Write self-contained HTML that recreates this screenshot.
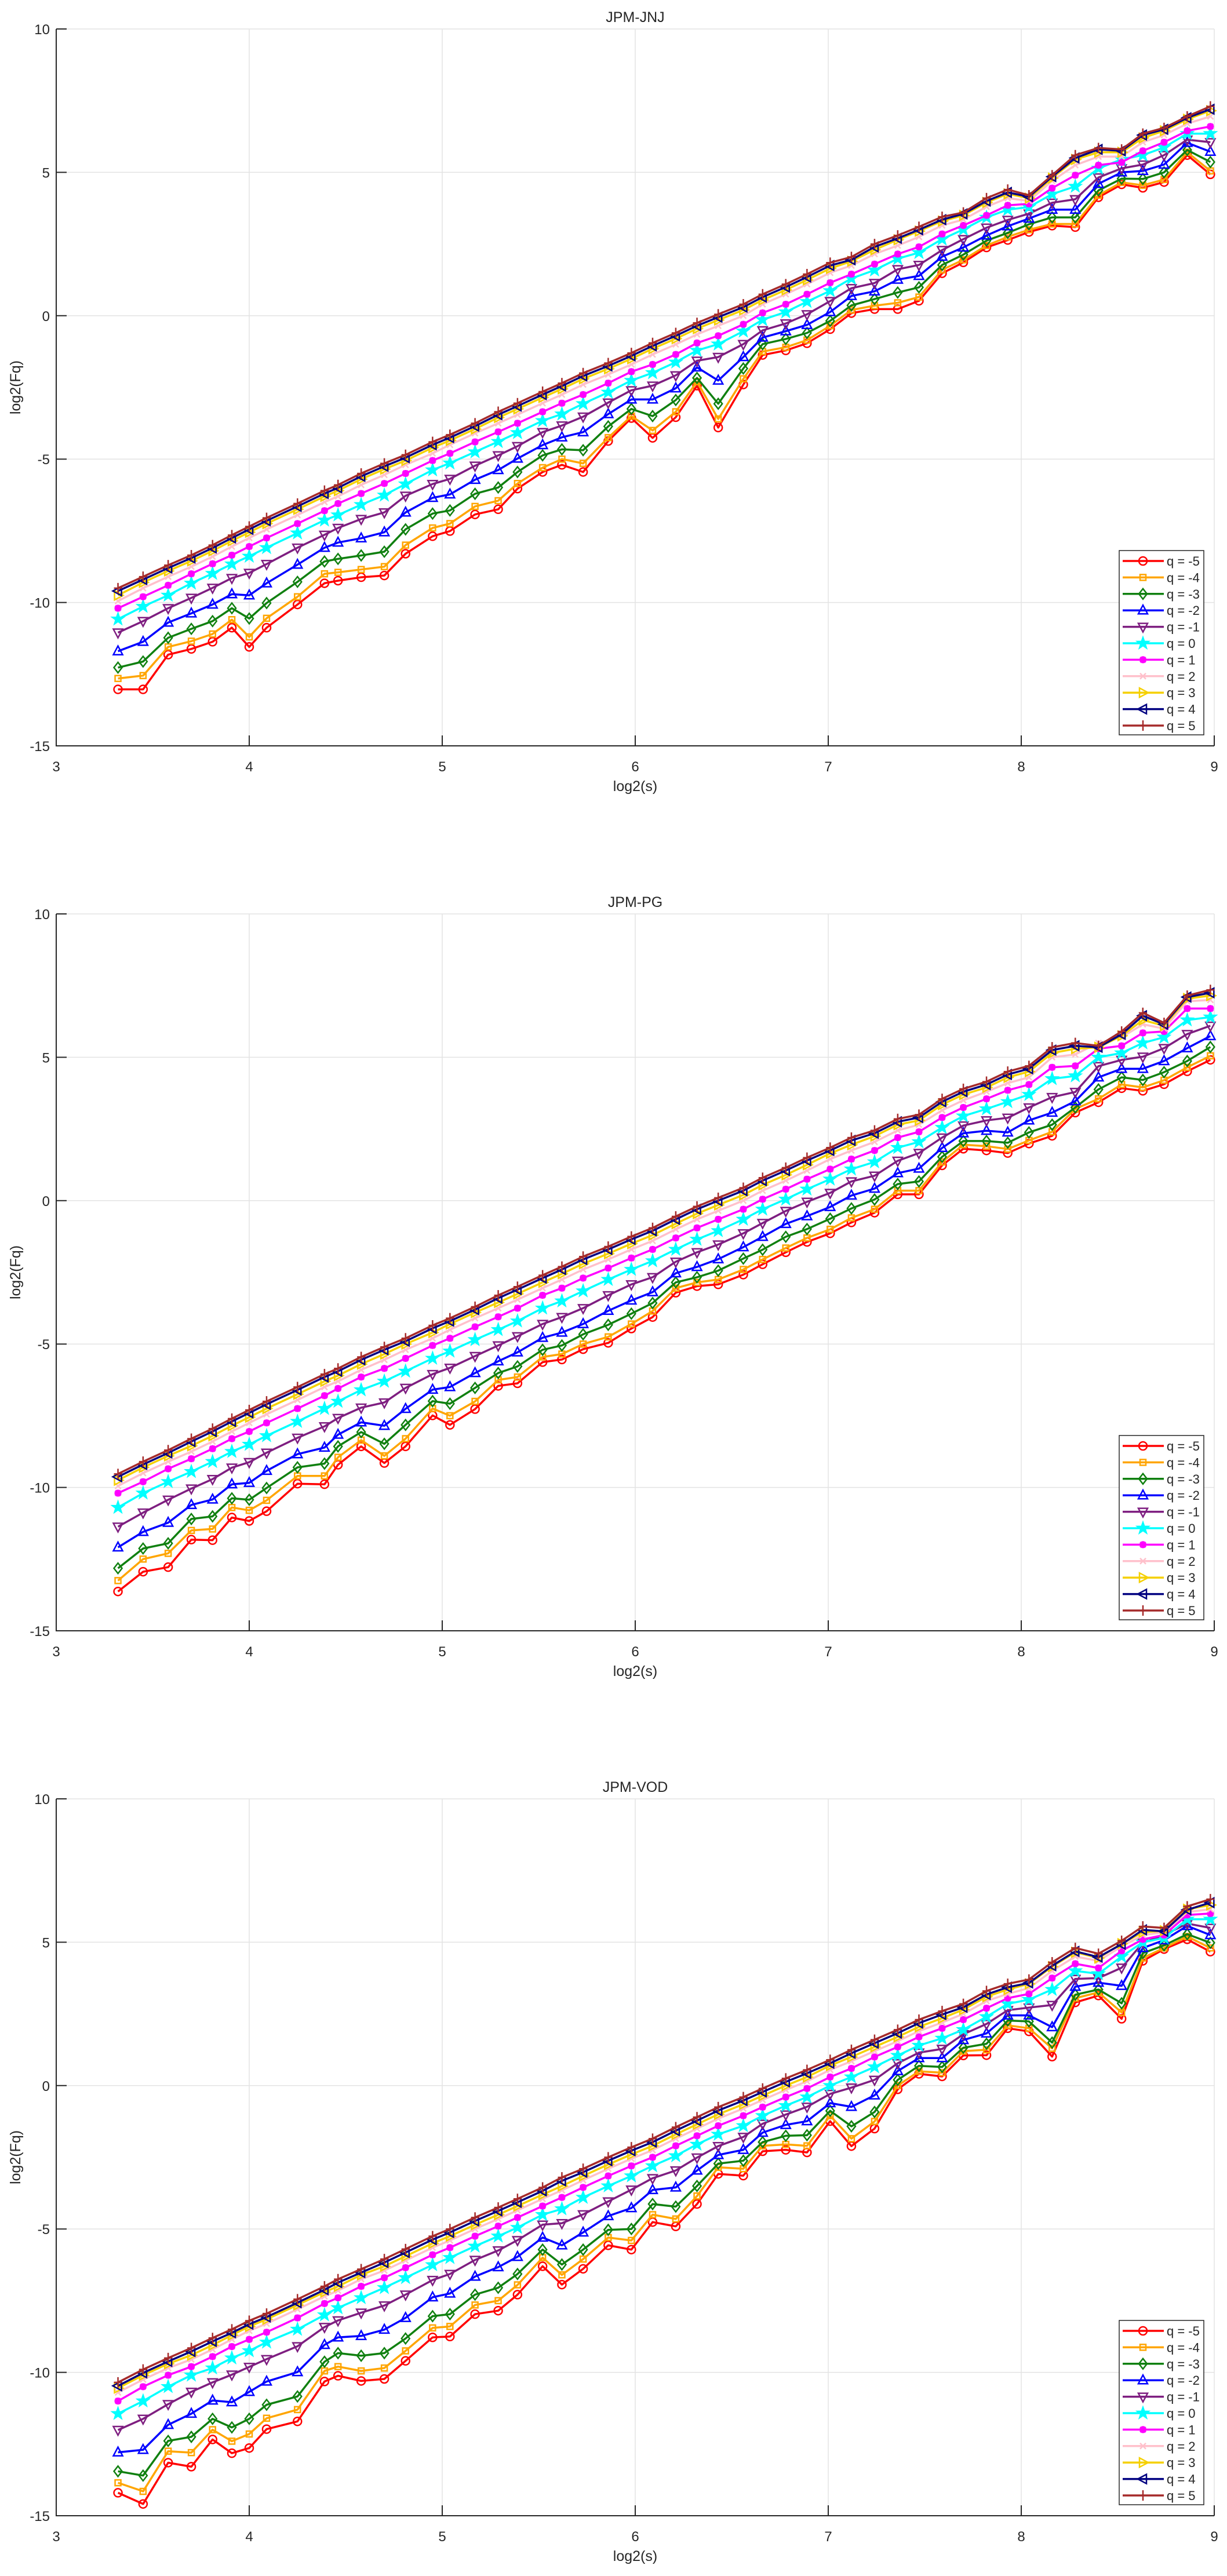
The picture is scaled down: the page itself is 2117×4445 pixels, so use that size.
<!DOCTYPE html>
<html><head><meta charset="utf-8">
<style>
html,body{margin:0;padding:0;background:#fff;}
svg{display:block;}
text{font-family:"Liberation Sans",Arial,sans-serif;fill:#262626;}
</style></head>
<body>
<svg id="fig" width="2117" height="4445" viewBox="0 0 2117 4445" xmlns="http://www.w3.org/2000/svg"></svg>
<script>
const xVals=[3.32,3.45,3.58,3.70,3.81,3.91,4.00,4.09,4.25,4.39,4.46,4.58,4.70,4.81,4.95,5.04,5.17,5.29,5.39,5.52,5.62,5.73,5.86,5.98,6.09,6.21,6.32,6.43,6.56,6.66,6.78,6.89,7.01,7.12,7.24,7.36,7.47,7.59,7.70,7.82,7.93,8.04,8.16,8.28,8.40,8.52,8.63,8.74,8.86,8.98];
const xTicks=[3,4,5,6,7,8,9];
const yTicks=[-15,-10,-5,0,5,10];
const qLabels=["q = -5","q = -4","q = -3","q = -2","q = -1","q = 0","q = 1","q = 2","q = 3","q = 4","q = 5"];
const titles=["JPM-JNJ","JPM-PG","JPM-VOD"];

// JPM-JNJ
const jnjQm5=[-13.03,-13.03,-11.82,-11.62,-11.37,-10.88,-11.55,-10.88,-10.07,-9.33,-9.24,-9.12,-9.06,-8.3,-7.69,-7.51,-6.93,-6.75,-6.03,-5.45,-5.2,-5.45,-4.37,-3.57,-4.26,-3.54,-2.44,-3.9,-2.4,-1.37,-1.21,-0.96,-0.47,0.09,0.23,0.23,0.52,1.48,1.86,2.38,2.64,2.92,3.14,3.09,4.13,4.58,4.46,4.66,5.6,4.93];
const jnjQm4=[-12.65,-12.55,-11.55,-11.35,-11.1,-10.6,-11.2,-10.55,-9.8,-9.0,-8.95,-8.85,-8.75,-8.0,-7.4,-7.25,-6.65,-6.45,-5.85,-5.3,-5.0,-5.15,-4.25,-3.5,-4.0,-3.35,-2.3,-3.6,-2.2,-1.25,-1.1,-0.85,-0.35,0.2,0.35,0.45,0.65,1.6,1.95,2.45,2.75,3.0,3.2,3.2,4.2,4.65,4.55,4.75,5.7,5.05];
const jnjQm3=[-12.27,-12.06,-11.23,-10.92,-10.65,-10.2,-10.56,-10.02,-9.28,-8.57,-8.48,-8.36,-8.23,-7.45,-6.9,-6.79,-6.21,-5.99,-5.45,-4.87,-4.66,-4.69,-3.86,-3.25,-3.5,-2.94,-2.17,-3.07,-1.84,-0.99,-0.81,-0.6,-0.18,0.36,0.58,0.81,0.99,1.77,2.13,2.62,2.89,3.19,3.43,3.43,4.37,4.78,4.77,5.0,5.78,5.36];
const jnjQm2=[-11.7,-11.37,-10.7,-10.38,-10.07,-9.71,-9.75,-9.33,-8.68,-8.09,-7.91,-7.76,-7.55,-6.86,-6.35,-6.23,-5.72,-5.38,-4.98,-4.51,-4.24,-4.06,-3.43,-2.92,-2.92,-2.53,-1.8,-2.26,-1.44,-0.76,-0.54,-0.32,0.13,0.69,0.85,1.26,1.39,2.06,2.38,2.8,3.12,3.39,3.7,3.7,4.6,5.0,5.05,5.27,6.03,5.72];
const jnjQm1=[-11.05,-10.65,-10.2,-9.84,-9.49,-9.15,-8.97,-8.66,-8.09,-7.64,-7.4,-7.09,-6.86,-6.28,-5.87,-5.69,-5.23,-4.87,-4.55,-4.06,-3.83,-3.52,-3.03,-2.6,-2.44,-2.08,-1.57,-1.44,-0.99,-0.51,-0.27,0.05,0.51,0.96,1.14,1.62,1.77,2.29,2.67,3.07,3.34,3.56,3.94,4.06,4.82,5.14,5.27,5.6,6.14,6.05];
const jnjQ0=[-10.58,-10.14,-9.75,-9.33,-8.99,-8.66,-8.39,-8.09,-7.58,-7.13,-6.95,-6.59,-6.26,-5.87,-5.38,-5.14,-4.75,-4.39,-4.08,-3.66,-3.43,-3.07,-2.67,-2.26,-1.99,-1.62,-1.21,-0.99,-0.54,-0.14,0.13,0.49,0.87,1.3,1.59,1.99,2.2,2.67,3.01,3.43,3.7,3.79,4.24,4.51,5.14,5.45,5.6,5.87,6.35,6.35];
const jnjQ1=[-10.2,-9.8,-9.4,-9.0,-8.65,-8.35,-8.05,-7.75,-7.25,-6.8,-6.55,-6.2,-5.85,-5.5,-5.05,-4.8,-4.4,-4.05,-3.75,-3.35,-3.05,-2.75,-2.35,-1.95,-1.7,-1.35,-0.95,-0.7,-0.3,0.1,0.4,0.75,1.15,1.45,1.8,2.15,2.4,2.85,3.15,3.5,3.85,3.9,4.45,4.9,5.25,5.35,5.75,6.05,6.45,6.6];
const jnjQ2=[-9.95,-9.5,-9.1,-8.75,-8.4,-8.05,-7.75,-7.45,-6.95,-6.5,-6.3,-5.9,-5.55,-5.2,-4.8,-4.5,-4.1,-3.75,-3.45,-3.05,-2.75,-2.4,-2.05,-1.7,-1.35,-1.0,-0.65,-0.35,0.0,0.4,0.75,1.1,1.5,1.75,2.15,2.45,2.75,3.15,3.35,3.8,4.1,4.0,4.7,5.25,5.55,5.55,6.05,6.3,6.7,6.95];
const jnjQ3=[-9.75,-9.3,-8.9,-8.55,-8.2,-7.85,-7.55,-7.25,-6.75,-6.3,-6.1,-5.7,-5.35,-5.05,-4.6,-4.35,-3.95,-3.55,-3.25,-2.85,-2.55,-2.2,-1.85,-1.5,-1.15,-0.8,-0.45,-0.15,0.2,0.55,0.9,1.25,1.65,1.9,2.3,2.65,2.95,3.3,3.5,3.95,4.25,4.1,4.8,5.45,5.7,5.7,6.2,6.45,6.85,7.15];
const jnjQ4=[-9.6,-9.2,-8.8,-8.45,-8.1,-7.75,-7.45,-7.15,-6.65,-6.2,-6.0,-5.6,-5.25,-4.95,-4.5,-4.25,-3.85,-3.45,-3.15,-2.75,-2.45,-2.1,-1.75,-1.4,-1.05,-0.7,-0.35,-0.05,0.3,0.65,1.0,1.35,1.75,1.95,2.4,2.7,3.0,3.35,3.55,4.0,4.3,4.15,4.85,5.5,5.8,5.75,6.3,6.5,6.9,7.2];
const jnjQ5=[-9.5,-9.1,-8.7,-8.35,-8.0,-7.65,-7.35,-7.05,-6.55,-6.1,-5.9,-5.5,-5.15,-4.85,-4.4,-4.15,-3.75,-3.35,-3.05,-2.65,-2.35,-2.0,-1.65,-1.3,-0.95,-0.6,-0.25,0.05,0.4,0.75,1.1,1.45,1.85,2.05,2.5,2.8,3.1,3.45,3.6,4.1,4.4,4.2,4.9,5.6,5.85,5.8,6.35,6.55,6.95,7.3];

// JPM-PG
const pgQm5=[-13.63,-12.94,-12.78,-11.82,-11.84,-11.05,-11.17,-10.83,-9.87,-9.89,-9.21,-8.57,-9.15,-8.57,-7.49,-7.82,-7.27,-6.46,-6.37,-5.63,-5.54,-5.18,-4.96,-4.46,-4.06,-3.21,-2.98,-2.92,-2.58,-2.22,-1.8,-1.44,-1.14,-0.76,-0.42,0.22,0.22,1.23,1.81,1.75,1.66,1.99,2.26,3.07,3.43,3.92,3.83,4.06,4.51,4.91];
const pgQm4=[-13.25,-12.5,-12.3,-11.5,-11.45,-10.7,-10.8,-10.45,-9.6,-9.6,-8.95,-8.35,-8.9,-8.3,-7.25,-7.5,-7.0,-6.25,-6.15,-5.45,-5.35,-5.0,-4.75,-4.3,-3.85,-3.05,-2.85,-2.75,-2.4,-2.05,-1.65,-1.3,-1.0,-0.6,-0.3,0.35,0.35,1.35,1.95,1.9,1.8,2.1,2.4,3.2,3.55,4.05,3.95,4.2,4.65,5.05];
const pgQm3=[-12.82,-12.13,-11.95,-11.1,-11.01,-10.38,-10.43,-10.02,-9.3,-9.17,-8.57,-8.07,-8.48,-7.82,-6.99,-7.08,-6.53,-6.01,-5.78,-5.2,-5.05,-4.66,-4.33,-3.94,-3.57,-2.85,-2.67,-2.44,-2.02,-1.71,-1.26,-0.99,-0.63,-0.27,0.04,0.58,0.67,1.53,2.08,2.08,2.02,2.38,2.65,3.25,3.88,4.3,4.21,4.48,4.87,5.36];
const pgQm2=[-12.09,-11.55,-11.23,-10.61,-10.42,-9.89,-9.84,-9.42,-8.84,-8.61,-8.16,-7.73,-7.85,-7.26,-6.59,-6.5,-6.01,-5.6,-5.29,-4.78,-4.6,-4.3,-3.84,-3.48,-3.19,-2.53,-2.31,-2.04,-1.62,-1.26,-0.81,-0.54,-0.22,0.18,0.42,0.96,1.12,1.84,2.35,2.44,2.38,2.8,3.07,3.47,4.3,4.6,4.6,4.87,5.32,5.74];
const pgQm1=[-11.37,-10.88,-10.43,-10.04,-9.71,-9.31,-9.12,-8.79,-8.27,-7.87,-7.58,-7.22,-7.04,-6.53,-6.05,-5.83,-5.42,-5.05,-4.73,-4.3,-4.06,-3.75,-3.3,-2.92,-2.67,-2.13,-1.8,-1.53,-1.14,-0.78,-0.36,-0.04,0.27,0.67,0.87,1.39,1.66,2.2,2.62,2.8,2.89,3.25,3.61,3.79,4.69,4.91,5.02,5.32,5.81,6.1];
const pgQ0=[-10.7,-10.2,-9.8,-9.45,-9.1,-8.75,-8.5,-8.2,-7.7,-7.25,-7.0,-6.6,-6.3,-5.95,-5.5,-5.25,-4.85,-4.5,-4.2,-3.75,-3.5,-3.15,-2.75,-2.4,-2.1,-1.7,-1.35,-1.05,-0.65,-0.3,0.05,0.4,0.75,1.1,1.35,1.85,2.05,2.55,2.95,3.2,3.45,3.7,4.25,4.35,5.0,5.15,5.5,5.7,6.3,6.4];
const pgQ1=[-10.2,-9.8,-9.35,-9.0,-8.65,-8.3,-8.05,-7.75,-7.25,-6.8,-6.55,-6.15,-5.85,-5.5,-5.05,-4.8,-4.4,-4.05,-3.75,-3.3,-3.05,-2.7,-2.35,-2.0,-1.7,-1.3,-0.95,-0.65,-0.3,0.05,0.4,0.75,1.1,1.45,1.75,2.2,2.4,2.9,3.25,3.55,3.85,4.05,4.65,4.7,5.3,5.4,5.85,5.9,6.7,6.7];
const pgQ2=[-9.95,-9.5,-9.1,-8.75,-8.4,-8.05,-7.75,-7.45,-6.95,-6.5,-6.3,-5.9,-5.55,-5.2,-4.8,-4.5,-4.1,-3.75,-3.45,-3.05,-2.75,-2.4,-2.05,-1.7,-1.4,-1.0,-0.65,-0.35,0.0,0.35,0.7,1.05,1.45,1.75,2.05,2.45,2.65,3.15,3.5,3.8,4.1,4.3,5.0,5.1,5.5,5.7,6.15,6.0,6.95,7.0];
const pgQ3=[-9.75,-9.3,-8.9,-8.55,-8.2,-7.85,-7.55,-7.25,-6.75,-6.3,-6.1,-5.7,-5.35,-5.0,-4.6,-4.3,-3.9,-3.55,-3.25,-2.85,-2.55,-2.2,-1.85,-1.5,-1.2,-0.8,-0.45,-0.15,0.2,0.55,0.9,1.25,1.65,1.95,2.25,2.65,2.8,3.35,3.7,3.95,4.3,4.5,5.15,5.3,5.35,5.75,6.3,6.1,7.05,7.15];
const pgQ4=[-9.63,-9.2,-8.8,-8.4,-8.05,-7.7,-7.4,-7.1,-6.6,-6.15,-5.95,-5.55,-5.2,-4.9,-4.45,-4.2,-3.8,-3.4,-3.1,-2.7,-2.4,-2.05,-1.7,-1.35,-1.05,-0.65,-0.3,0.0,0.35,0.7,1.05,1.4,1.75,2.1,2.35,2.75,2.9,3.45,3.8,4.05,4.4,4.6,5.25,5.4,5.35,5.8,6.45,6.15,7.1,7.25];
const pgQ5=[-9.53,-9.1,-8.7,-8.3,-7.95,-7.6,-7.3,-7.0,-6.5,-6.05,-5.85,-5.45,-5.1,-4.8,-4.35,-4.1,-3.7,-3.3,-3.0,-2.6,-2.3,-1.95,-1.6,-1.25,-0.95,-0.55,-0.2,0.1,0.45,0.8,1.15,1.5,1.85,2.2,2.45,2.85,3.0,3.55,3.9,4.15,4.5,4.7,5.35,5.5,5.4,5.9,6.55,6.2,7.15,7.35];

// JPM-VOD
const vodQm5=[-14.2,-14.59,-13.15,-13.29,-12.34,-12.82,-12.64,-11.98,-11.71,-10.32,-10.12,-10.3,-10.23,-9.6,-8.78,-8.75,-7.97,-7.85,-7.29,-6.3,-6.94,-6.39,-5.57,-5.72,-4.76,-4.91,-4.13,-3.08,-3.14,-2.29,-2.24,-2.33,-1.24,-2.11,-1.5,-0.13,0.41,0.32,1.05,1.06,2.0,1.89,1.01,2.9,3.14,2.33,4.35,4.76,5.1,4.67];
const vodQm4=[-13.85,-14.15,-12.75,-12.8,-12.0,-12.4,-12.15,-11.6,-11.3,-9.95,-9.8,-9.95,-9.85,-9.25,-8.45,-8.4,-7.65,-7.5,-6.95,-6.0,-6.6,-6.05,-5.3,-5.4,-4.5,-4.65,-3.85,-2.85,-2.9,-2.1,-2.05,-2.1,-1.05,-1.85,-1.25,0.0,0.5,0.45,1.2,1.25,2.1,2.0,1.3,3.05,3.25,2.55,4.45,4.8,5.2,4.8];
const vodQm3=[-13.45,-13.6,-12.39,-12.25,-11.62,-11.92,-11.62,-11.13,-10.84,-9.63,-9.33,-9.42,-9.33,-8.82,-8.04,-7.97,-7.29,-7.05,-6.57,-5.72,-6.24,-5.72,-5.03,-5.0,-4.13,-4.22,-3.5,-2.72,-2.62,-1.97,-1.75,-1.73,-0.88,-1.42,-0.92,0.2,0.69,0.65,1.32,1.46,2.27,2.24,1.5,3.17,3.35,2.87,4.62,4.89,5.28,4.98];
const vodQm2=[-12.79,-12.7,-11.83,-11.44,-10.98,-11.04,-10.68,-10.32,-9.99,-9.04,-8.78,-8.73,-8.51,-8.1,-7.38,-7.25,-6.66,-6.33,-5.97,-5.3,-5.57,-5.12,-4.55,-4.27,-3.64,-3.55,-2.96,-2.42,-2.24,-1.64,-1.37,-1.24,-0.61,-0.74,-0.34,0.51,0.96,0.96,1.59,1.82,2.45,2.45,2.04,3.45,3.59,3.48,4.8,5.07,5.57,5.25];
const vodQm1=[-12.01,-11.62,-11.11,-10.68,-10.35,-10.08,-9.81,-9.54,-9.09,-8.42,-8.19,-7.92,-7.67,-7.29,-6.78,-6.57,-6.08,-5.75,-5.39,-4.85,-4.8,-4.49,-4.04,-3.63,-3.23,-2.96,-2.51,-2.11,-1.79,-1.33,-1.01,-0.74,-0.29,-0.07,0.2,0.78,1.15,1.28,1.79,2.15,2.63,2.72,2.81,3.72,3.75,4.11,4.98,5.25,5.65,5.5];
const vodQ0=[-11.44,-11.0,-10.5,-10.1,-9.85,-9.5,-9.25,-8.95,-8.5,-8.0,-7.75,-7.4,-7.05,-6.7,-6.25,-6.0,-5.6,-5.25,-4.95,-4.5,-4.3,-3.9,-3.5,-3.15,-2.8,-2.45,-2.05,-1.7,-1.4,-1.05,-0.7,-0.4,0.0,0.3,0.65,1.05,1.4,1.65,1.95,2.4,2.85,3.0,3.35,4.0,3.9,4.5,5.0,5.15,5.8,5.8];
const vodQ1=[-11.0,-10.5,-10.1,-9.8,-9.45,-9.1,-8.85,-8.6,-8.1,-7.6,-7.4,-7.0,-6.7,-6.35,-5.9,-5.65,-5.25,-4.9,-4.6,-4.2,-3.9,-3.55,-3.15,-2.8,-2.5,-2.1,-1.75,-1.4,-1.05,-0.75,-0.4,-0.1,0.3,0.6,1.0,1.35,1.7,2.0,2.3,2.7,3.05,3.2,3.75,4.25,4.1,4.7,5.1,5.25,5.95,6.0];
const vodQ2=[-10.7,-10.25,-9.85,-9.55,-9.2,-8.85,-8.55,-8.3,-7.8,-7.35,-7.15,-6.75,-6.45,-6.1,-5.65,-5.4,-5.0,-4.65,-4.35,-3.95,-3.65,-3.3,-2.9,-2.55,-2.25,-1.85,-1.5,-1.15,-0.8,-0.5,-0.15,0.15,0.55,0.85,1.2,1.55,1.9,2.2,2.5,2.95,3.2,3.4,4.0,4.5,4.35,4.85,5.25,5.35,6.05,6.15];
const vodQ3=[-10.55,-10.1,-9.7,-9.4,-9.05,-8.7,-8.4,-8.15,-7.65,-7.2,-7.0,-6.6,-6.3,-5.95,-5.5,-5.25,-4.85,-4.5,-4.2,-3.8,-3.5,-3.15,-2.75,-2.4,-2.1,-1.7,-1.35,-1.0,-0.65,-0.35,0.0,0.3,0.7,1.0,1.35,1.7,2.05,2.35,2.65,3.1,3.35,3.55,4.15,4.65,4.45,4.95,5.35,5.4,6.15,6.3];
const vodQ4=[-10.47,-10.02,-9.62,-9.27,-8.92,-8.62,-8.32,-8.07,-7.57,-7.12,-6.87,-6.52,-6.17,-5.82,-5.37,-5.12,-4.72,-4.37,-4.07,-3.67,-3.32,-3.02,-2.62,-2.27,-1.97,-1.57,-1.22,-0.87,-0.52,-0.22,0.13,0.43,0.78,1.13,1.48,1.83,2.18,2.48,2.73,3.18,3.43,3.58,4.18,4.68,4.48,4.93,5.43,5.38,6.13,6.38];
const vodQ5=[-10.35,-9.9,-9.5,-9.15,-8.8,-8.5,-8.2,-7.95,-7.45,-7.0,-6.75,-6.4,-6.05,-5.7,-5.25,-5.0,-4.6,-4.25,-3.95,-3.55,-3.2,-2.9,-2.5,-2.15,-1.85,-1.45,-1.1,-0.75,-0.4,-0.1,0.25,0.55,0.9,1.25,1.6,1.95,2.3,2.6,2.85,3.3,3.55,3.7,4.3,4.8,4.6,5.05,5.55,5.5,6.25,6.5];

const plotSeries=[
 [jnjQm5,jnjQm4,jnjQm3,jnjQm2,jnjQm1,jnjQ0,jnjQ1,jnjQ2,jnjQ3,jnjQ4,jnjQ5],
 [pgQm5,pgQm4,pgQm3,pgQm2,pgQm1,pgQ0,pgQ1,pgQ2,pgQ3,pgQ4,pgQ5],
 [vodQm5,vodQm4,vodQm3,vodQm2,vodQm1,vodQ0,vodQ1,vodQ2,vodQ3,vodQ4,vodQ5]
];

const colors=["#ff0000","#ffa500","#108010","#0000ff","#7e1e80","#00ffff","#ff00ff","#ffc0cb","#f5d000","#000080","#a52a2a"];
const markers=["o","s","d","^","v","p","*","x",">","<","+"];
const NS="http://www.w3.org/2000/svg";
const svg=document.getElementById("fig");
const L=97,R=2095,H=1237,TOP0=50,STEP=1527;

function mk(tag,attrs,parent){const e=document.createElementNS(NS,tag);for(const k in attrs)e.setAttribute(k,attrs[k]);parent.appendChild(e);return e;}

function markerPath(t,cx,cy){
 const r=8;
 switch(t){
  case "s":{const a=5;return `M${cx-a},${cy-a}h${2*a}v${2*a}h${-2*a}Z`;}
  case "d":return `M${cx},${cy-9}L${cx+7},${cy}L${cx},${cy+9}L${cx-7},${cy}Z`;
  case "^":return `M${cx},${cy-9}L${cx+8},${cy+6}L${cx-8},${cy+6}Z`;
  case "v":return `M${cx},${cy+9}L${cx+8},${cy-6}L${cx-8},${cy-6}Z`;
  case ">":return `M${cx+9},${cy}L${cx-6},${cy-8}L${cx-6},${cy+8}Z`;
  case "<":return `M${cx-9},${cy}L${cx+6},${cy-8}L${cx+6},${cy+8}Z`;
  case "p":{let d="";for(let i=0;i<10;i++){const ang=-Math.PI/2+i*Math.PI/5;const rr=i%2?4:10;d+=(i?"L":"M")+(cx+rr*Math.cos(ang)).toFixed(1)+","+(cy+rr*Math.sin(ang)).toFixed(1);}return d+"Z";}
  case "*":return `M${cx-6},${cy}h12M${cx},${cy-6}v12M${cx-4.5},${cy-4.5}l9,9M${cx+4.5},${cy-4.5}l-9,9`;
  case "x":return `M${cx-5},${cy-5}l10,10M${cx+5},${cy-5}l-10,10`;
  case "+":return `M${cx-7},${cy}h14M${cx},${cy-9}v18`;
 }
 return "";
}
function drawMarker(g,t,cx,cy,col){
 if(t==="o"){const c=mk("circle",{cx:cx,cy:cy,r:7,fill:"none",stroke:col,"stroke-width":2.5},g);return;}
 const fill=(t==="p")?col:"none";
 const sw=(t==="*")?4:2.5;
 const p=mk("path",{d:markerPath(t,cx,cy),fill:fill,stroke:col,"stroke-width":sw,"stroke-linejoin":"miter"},g);
 
 
}

for(let k=0;k<3;k++){
 const T=TOP0+k*STEP,B=T+H;
 const xs=v=>L+(v-3)/6*(R-L);
 const ys=v=>B-(v+15)/25*H;
 const g=mk("g",{},svg);
 
 
 // grid
 xTicks.forEach(t=>{if(t>3&&t<9){const l=mk("line",{x1:xs(t),x2:xs(t),y1:T,y2:B,stroke:"#e3e3e3","stroke-width":1.5},g);}});
 yTicks.forEach(t=>{if(t>-15&&t<10){const l=mk("line",{x1:L,x2:R,y1:ys(t),y2:ys(t),stroke:"#e3e3e3","stroke-width":1.5},g);}});
 const top=mk("line",{x1:L,x2:R,y1:T,y2:T,stroke:"#e3e3e3","stroke-width":1.5},g);
 
 const rgt=mk("line",{x1:R,x2:R,y1:T,y2:B,stroke:"#e3e3e3","stroke-width":1.5},g);
 
 // series
 plotSeries[k].forEach((ser,si)=>{
  const sg=mk("g",{},g);
  
  
  const pts=ser.map((v,i)=>xs(xVals[i]).toFixed(1)+","+ys(v).toFixed(1)).join(" ");
  const pl=mk("polyline",{points:pts,fill:"none",stroke:colors[si],"stroke-width":3.5,"stroke-linejoin":"round"},sg);
  
  
  ser.forEach((v,i)=>drawMarker(sg,markers[si],xs(xVals[i]),ys(v),colors[si]));
 });
 // axes
 const ax=mk("path",{d:`M${L},${T}V${B}H${R}`,fill:"none",stroke:"#262626","stroke-width":2},g);
 
 xTicks.forEach(t=>{
  const tk=mk("line",{x1:xs(t),x2:xs(t),y1:B,y2:B-18,stroke:"#262626","stroke-width":2},g);
  
  const tx=mk("text",{x:xs(t),y:B+44,"font-size":24,"text-anchor":"middle"},g);tx.textContent=t;
  
 });
 yTicks.forEach(t=>{
  const tk=mk("line",{x1:L,x2:L+18,y1:ys(t),y2:ys(t),stroke:"#262626","stroke-width":2},g);
  
  const tx=mk("text",{x:L-11,y:ys(t)+9,"font-size":24,"text-anchor":"end"},g);tx.textContent=t;
  
 });
 const ti=mk("text",{x:(L+R)/2,y:T-12,"font-size":25,"text-anchor":"middle",fill:"#000"},g);ti.textContent=titles[k];
 
 const xl=mk("text",{x:(L+R)/2,y:B+78,"font-size":25,"text-anchor":"middle"},g);xl.textContent="log2(s)";
 
 const yl=mk("text",{x:0,y:0,"font-size":25,"text-anchor":"middle",transform:`translate(35,${(T+B)/2}) rotate(-90)`},g);yl.textContent="log2(Fq)";
 
 // legend
 const lg=mk("g",{},g);
 
 
 const lx=1931,ly=B-(1287-950),lw=146,lh=318;
 const bx=mk("rect",{x:lx,y:ly,width:lw,height:lh,fill:"#fff",stroke:"#262626","stroke-width":1.5},lg);
 
 qLabels.forEach((q,i)=>{
  const cy=ly+18+i*28.4;
  const eg=mk("g",{},lg);
  
  
  const ln=mk("line",{x1:1937,x2:2008,y1:cy,y2:cy,stroke:colors[i],"stroke-width":3.5},eg);
  
  drawMarker(eg,markers[i],1972,cy,colors[i]);
  const tx=mk("text",{x:2013,y:cy+8,"font-size":22},eg);tx.textContent=q;
  
 });
}
</script>
</body></html>
